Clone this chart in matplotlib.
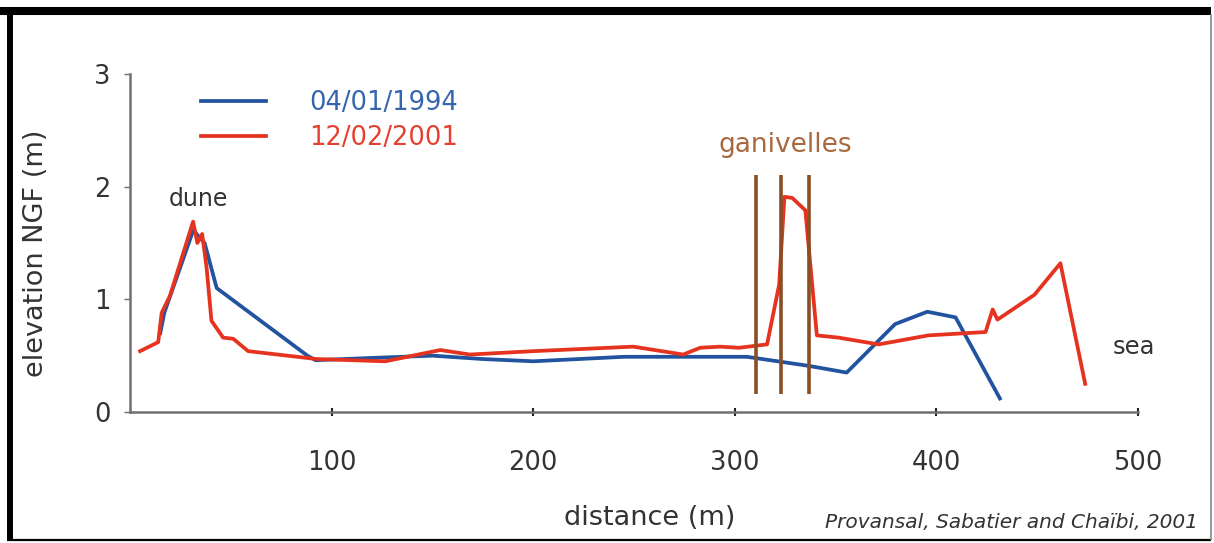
import matplotlib
matplotlib.use("Agg")
import matplotlib.pyplot as plt
from matplotlib.lines import Line2D

# profile 04/01/1994
blue_x = [15, 17, 31.5, 33, 37, 43, 88, 92, 120, 150, 175, 200, 245, 292, 306,
          336.5, 355.5, 379.5, 395.5, 409.5, 431.5]
blue_y = [0.70, 0.88, 1.62, 1.58, 1.50, 1.10, 0.50, 0.46, 0.48, 0.50, 0.47, 0.45,
          0.49, 0.49, 0.49, 0.41, 0.35, 0.78, 0.89, 0.84, 0.12]

# profile 12/02/2001
red_x = [5, 14, 15.7, 19.8, 31.3, 33.4, 35.8, 38, 40.4, 46.2, 51.2, 58.6, 92.6,
         126.6, 153.9, 168.6, 200, 249.6, 274.4, 282.8, 292.7, 302, 316, 322,
         324.6, 328.5, 335, 340.7, 351.5, 371.3, 396, 424.4, 427.9, 430.3,
         448.6, 461.5, 473.8]
red_y = [0.54, 0.62, 0.88, 1.03, 1.69, 1.50, 1.58, 1.28, 0.81, 0.66, 0.65, 0.54,
         0.47, 0.45, 0.55, 0.51, 0.54, 0.58, 0.51, 0.57, 0.58, 0.57, 0.60, 1.13,
         1.91, 1.90, 1.79, 0.68, 0.66, 0.60, 0.68, 0.71, 0.91, 0.82, 1.04, 1.32,
         0.25]

ganivelles_x = [310.7, 322.9, 337.0]
ganivelles_bottom = 0.16
ganivelles_top = 2.10

labels = ["04/01/1994", "12/02/2001"]
x_ticks = [100, 200, 300, 400, 500]
y_ticks = [0, 1, 2, 3]

BLUE = "#21539f"
RED = "#e5331f"
BROWN = "#8a4e25"
GREY = "#707070"
TXT = "#333333"

plt.rcParams['font.family'] = ['DejaVu Sans']

fig = plt.figure(figsize=(12.14, 5.43), dpi=100)
W, H = 1214, 543
ax = fig.add_axes([130 / W, 1 - 412 / H, (1138 - 130) / W, (412 - 74) / H])

ax.plot(blue_x, blue_y, color=BLUE, lw=2.7, solid_joinstyle='round', label=labels[0])
ax.plot(red_x, red_y, color=RED, lw=2.7, solid_joinstyle='round', label=labels[1])
ax.vlines(ganivelles_x, ganivelles_bottom, ganivelles_top, color=BROWN, lw=2.6)

ax.set_xlim(0, 500)
ax.set_ylim(0, 3)
ax.set_xticks(x_ticks)
ax.set_yticks(y_ticks)

for s in ['top', 'right']:
    ax.spines[s].set_visible(False)
for s in ['left', 'bottom']:
    ax.spines[s].set_color(GREY)
    ax.spines[s].set_linewidth(1.8)
ax.tick_params(axis='x', direction='inout', length=6, width=1.5, color='#222222',
               pad=24, labelsize=18.5, labelcolor=TXT)
ax.tick_params(axis='y', direction='out', length=4, width=1.0, color=GREY,
               pad=10, labelsize=18.5, labelcolor=TXT)

ax.set_xlabel("distance (m)", fontsize=19.5, color=TXT)
ax.xaxis.set_label_coords(0.516, -0.275)
ax.set_ylabel("elevation NGF (m)", fontsize=19.5, color=TXT)
ax.yaxis.set_label_coords(-0.08, 0.47)

leg = ax.legend(loc='upper left', bbox_to_anchor=(0.058, 0.99), frameon=False,
                fontsize=18.5, handlelength=2.5, handletextpad=1.7,
                labelspacing=0.35, borderpad=0, labelcolor=["#3565ae", "#e5402f"])

ax.text(34, 1.89, "dune", fontsize=17, color=TXT, ha='center', va='center')
ax.text(325, 2.37, "ganivelles", fontsize=19, color="#a8693f", ha='center', va='center')
ax.text(498, 0.58, "sea", fontsize=17.5, color=TXT, ha='center', va='center')
fig.text(1198 / W, 1 - 522 / H, "Provansal, Sabatier and Chaïbi, 2001",
         fontsize=14.5, style='italic', color=TXT, ha='right', va='center')

# picture frame
fig.add_artist(Line2D([0, 1211 / W], [1 - 11 / H, 1 - 11 / H], color='black', lw=5.8,
                      transform=fig.transFigure, solid_capstyle='butt'))
fig.add_artist(Line2D([10 / W, 10 / W], [1 - 540 / H, 1 - 7 / H], color='black', lw=4.3,
                      transform=fig.transFigure, solid_capstyle='butt'))
fig.add_artist(Line2D([7 / W, 1211 / W], [1 - 540 / H, 1 - 540 / H], color='black', lw=1.6,
                      transform=fig.transFigure, solid_capstyle='butt'))
fig.add_artist(Line2D([1210.5 / W, 1210.5 / W], [1 - 540 / H, 1 - 14 / H], color='#888888',
                      lw=1.2, transform=fig.transFigure, solid_capstyle='butt'))

fig.savefig("out.png", dpi=100)
